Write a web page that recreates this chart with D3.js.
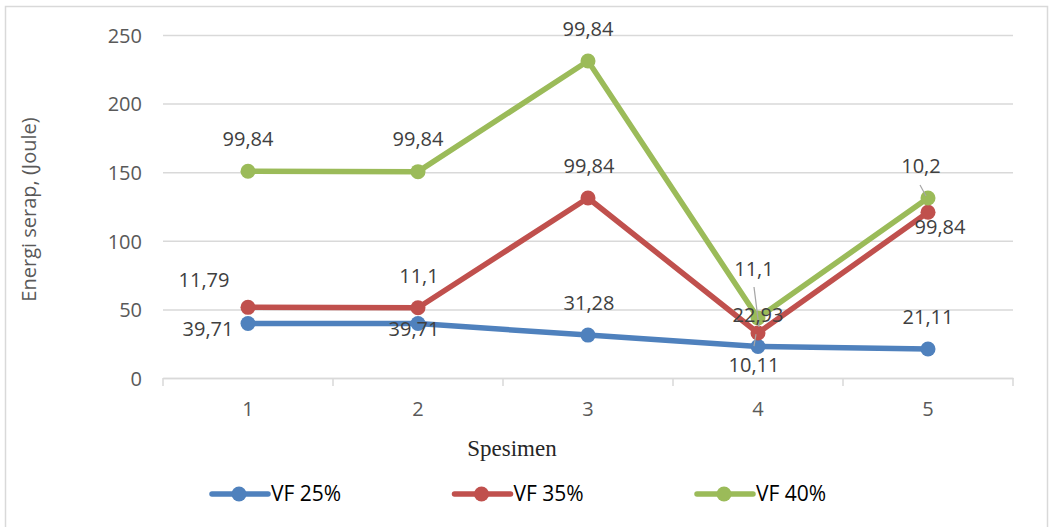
<!DOCTYPE html>
<html>
<head>
<meta charset="utf-8">
<script src="https://cdn.jsdelivr.net/npm/d3@7/dist/d3.min.js"></script>
<style>
  html, body { margin: 0; padding: 0; background: #ffffff; }
  svg { display: block; }
</style>
</head>
<body>
<svg id="chart" width="1049" height="527"></svg>
<script>
// Specimen categories and absorbed energy per fibre volume fraction
const categories = ["1", "2", "3", "4", "5"];
const vf25 = [39.71, 39.71, 31.28, 22.93, 21.11];
const vf35 = [51.5, 51.2, 131.2, 32.8, 120.8];
const vf40 = [150.7, 150.4, 231.0, 43.7, 131.2];

// Data label texts as printed next to each point
const labels25 = ["39,71", "39,71", "31,28", "22,93", "21,11"];
const labels35 = ["11,79", "11,1", "99,84", "11,1", "99,84"];
const labels40 = ["99,84", "99,84", "99,84", "10,11", "10,2"];

const yTicks = [0, 50, 100, 150, 200, 250];
const seriesNames = ["VF 25%", "VF 35%", "VF 40%"];

// Layout: label placement relative to each point (centre of text)
const labelOffsets = [
  [[-40, 5.5], [-4, 5.5], [1, -32], [0, -31.5], [0, -32]],
  [[-44, -27], [1, -32], [1, -32], [-4, -64], [12, 15]],
  [[0, -32], [0, -33], [0, -32], [-4, 47], [-7, -32]]
];
// Leader lines: [series, point, start offset, end offset]
const leaders = [
  [1, 3, [-4, -46], [1, -6]],
  [2, 3, [-4, 28], [-2, 16]],
  [2, 4, [-8, -13], [-2, -2]]
];

const colors = ["#4f81bd", "#c0504d", "#9bbb59"];
const series = [vf25, vf35, vf40];
const labels = [labels25, labels35, labels40];

const svg = d3.select("#chart");
const plot = { left: 163, right: 1013, top: 35, bottom: 378 };

// Outer chart border
svg.append("rect")
  .attr("x", 5.5).attr("y", 6.5)
  .attr("width", 1042).attr("height", 540)
  .attr("fill", "none").attr("stroke", "#d9d9d9").attr("stroke-width", 1.5);

const x = d3.scaleBand().domain(categories).range([plot.left, plot.right]).padding(0);
const y = d3.scaleLinear().domain([0, 250]).range([plot.bottom, plot.top]);
const cx = c => x(c) + x.bandwidth() / 2;

// Horizontal gridlines and y tick labels
const yAxis = d3.axisLeft(y).tickValues(yTicks).tickSize(-(plot.right - plot.left)).tickPadding(21).tickFormat(d3.format("d"));
const gy = svg.append("g").attr("transform", `translate(${plot.left},0)`).call(yAxis);
gy.select(".domain").remove();
gy.selectAll(".tick line").attr("stroke", "#d9d9d9").attr("stroke-width", 1.5);
gy.selectAll(".tick text")
  .attr("font-family", "'Open Sans', sans-serif").attr("font-size", 20)
  .attr("fill", "#595959").attr("dy", "0.36em");

// Category axis with boundary ticks
const gx = svg.append("g").attr("transform", `translate(0,${plot.bottom})`)
  .call(d3.axisBottom(x).tickSize(0).tickPadding(24));
gx.select(".domain").attr("stroke", "#d9d9d9").attr("stroke-width", 1.5);
gx.selectAll(".tick text")
  .attr("font-family", "'Open Sans', sans-serif").attr("font-size", 20).attr("fill", "#595959");
const bounds = categories.map(c => x(c)).concat([x(categories[categories.length - 1]) + x.bandwidth()]);
svg.append("g").selectAll("line").data(bounds).join("line")
  .attr("x1", d => d).attr("x2", d => d)
  .attr("y1", plot.bottom).attr("y2", plot.bottom + 8)
  .attr("stroke", "#d9d9d9").attr("stroke-width", 1.5);

// Series lines and markers
const line = d3.line().x((d, i) => cx(categories[i])).y(d => y(d));
series.forEach((vals, s) => {
  const g = svg.append("g");
  g.append("path").datum(vals).attr("d", line)
    .attr("fill", "none").attr("stroke", colors[s]).attr("stroke-width", 5.5)
    .attr("stroke-linejoin", "round").attr("stroke-linecap", "round");
  g.selectAll("circle").data(vals).join("circle")
    .attr("cx", (d, i) => cx(categories[i])).attr("cy", d => y(d))
    .attr("r", 7.5).attr("fill", colors[s]);
});

// Leader lines
svg.append("g").selectAll("line").data(leaders).join("line")
  .attr("x1", d => cx(categories[d[1]]) + d[2][0])
  .attr("y1", d => y(series[d[0]][d[1]]) + d[2][1])
  .attr("x2", d => cx(categories[d[1]]) + d[3][0])
  .attr("y2", d => y(series[d[0]][d[1]]) + d[3][1])
  .attr("stroke", "#a6a6a6").attr("stroke-width", 1.2);

// Data labels
series.forEach((vals, s) => {
  svg.append("g").selectAll("text").data(vals).join("text")
    .attr("x", (d, i) => cx(categories[i]) + labelOffsets[s][i][0])
    .attr("y", (d, i) => y(d) + labelOffsets[s][i][1] + 7)
    .attr("text-anchor", "middle")
    .attr("font-family", "'Open Sans', sans-serif").attr("font-size", 20)
    .attr("fill", "#404040")
    .text((d, i) => labels[s][i]);
});

// Axis titles
svg.append("text")
  .attr("transform", `translate(36,${(plot.top + plot.bottom) / 2 + 3}) rotate(-90)`)
  .attr("text-anchor", "middle")
  .attr("font-family", "'Open Sans', sans-serif").attr("font-size", 20)
  .attr("fill", "#595959")
  .text("Energi serap, (Joule)");

svg.append("text")
  .attr("x", 512).attr("y", 456)
  .attr("text-anchor", "middle")
  .attr("font-family", "'Liberation Serif', 'Times New Roman', serif").attr("font-size", 23)
  .attr("fill", "#262626")
  .text("Spesimen");

// Legend
const legendX = [212, 454.5, 697];
const lg = svg.append("g").selectAll("g").data(seriesNames).join("g")
  .attr("transform", (d, i) => `translate(${legendX[i]},494)`);
lg.append("line").attr("x1", 0).attr("x2", 56).attr("y1", 0).attr("y2", 0)
  .attr("stroke", (d, i) => colors[i]).attr("stroke-width", 5.5).attr("stroke-linecap", "round");
lg.append("circle").attr("cx", 27).attr("cy", 0).attr("r", 7.5).attr("fill", (d, i) => colors[i]);
lg.append("text").attr("x", 59).attr("y", 7)
  .attr("font-family", "'Open Sans', sans-serif").attr("font-size", 21)
  .attr("fill", "#000000")
  .text(d => d);
</script>
</body>
</html>
